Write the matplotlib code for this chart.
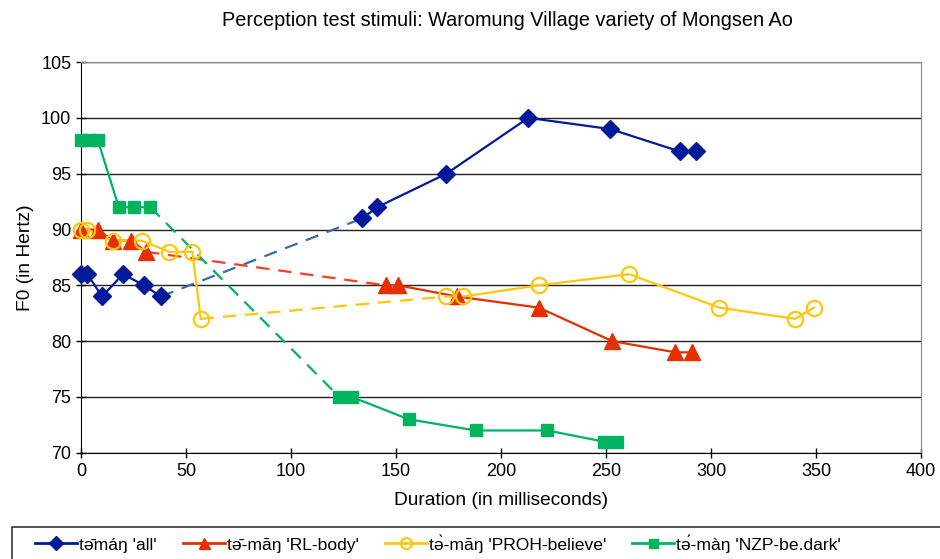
import matplotlib.pyplot as plt
from matplotlib.patches import Rectangle

plt.rcParams['font.family'] = ['Liberation Sans', 'DejaVu Sans']

# duration (ms) and F0 (Hz) for each stimulus
all_x = [0, 3, 10, 20, 30, 38, 134, 141, 174, 213, 252, 285, 293]
all_y = [86, 86, 84, 86, 85, 84, 91, 92, 95, 100, 99, 97, 97]

body_x = [0, 8, 15, 24, 31, 145, 151, 179, 218, 253, 283, 291]
body_y = [90, 90, 89, 89, 88, 85, 85, 84, 83, 80, 79, 79]

believe_x = [0, 3, 15, 29, 42, 53, 57, 174, 182, 218, 261, 304, 340, 349]
believe_y = [90, 90, 89, 89, 88, 88, 82, 84, 84, 85, 86, 83, 82, 83]

dark_x = [0, 4, 8, 18, 25, 33, 123, 129, 156, 188, 222, 249, 255]
dark_y = [98, 98, 98, 92, 92, 92, 75, 75, 73, 72, 72, 71, 71]

labels = ["tə̄máŋ 'all'", "tə̄-māŋ 'RL-body'", "tə̀-māŋ 'PROH-believe'", "tə́-màŋ 'NZP-be.dark'"]
# index of the last point before the dashed gap
gaps = [5, 4, 6, 5]

fig = plt.figure(figsize=(9.4, 5.59), dpi=100)
ax = fig.add_axes([0.0862, 0.19, 0.8936, 0.699])

series = [
    (all_x, all_y, '#001a99', '#3a6aa8', dict(marker='D', ms=9.5, mfc='#001a99', mec='#001a99')),
    (body_x, body_y, '#e62e00', '#ff3b1f', dict(marker='^', ms=11, mfc='#e62e00', mec='#e62e00')),
    (believe_x, believe_y, '#ffc60a', '#ffc60a', dict(marker='o', ms=11, mfc='none', mec='#ffc60a', mew=1.6)),
    (dark_x, dark_y, '#00b35f', '#00b35f', dict(marker='s', ms=9, mfc='#00b35f', mec='#00b35f')),
]

handles = []
for (x, y, c, dc, mk), g, lab in zip(series, gaps, labels):
    ax.plot(x[:g + 1], y[:g + 1], color=c, lw=1.6, zorder=3)
    ax.plot(x[g + 1:], y[g + 1:], color=c, lw=1.6, zorder=3)
    ax.plot(x[g:g + 2], y[g:g + 2], color=dc, lw=1.6, ls=(0, (6, 4)), zorder=3)
    ax.plot(x, y, ls='none', zorder=4, clip_on=False, **mk)
    h, = ax.plot([], [], color=c, lw=2, marker=mk['marker'], ms=mk['ms'] * 0.72,
                 mfc=mk['mfc'], mec=mk['mec'], mew=mk.get('mew', 1))
    handles.append(h)

ax.set_xlim(0, 400)
ax.set_ylim(70, 105)
ax.set_xticks(range(0, 401, 50))
ax.set_yticks(range(70, 106, 5))
ax.tick_params(direction='inout', length=7, width=1, labelsize=13, colors='black')
ax.grid(axis='y', color='#222222', lw=1)
ax.set_axisbelow(True)
for s in ['top', 'right']:
    ax.spines[s].set_color('#888888')
for s in ['left', 'bottom']:
    ax.spines[s].set_color('black')

ax.set_xlabel('Duration (in milliseconds)', fontsize=13.8, labelpad=9)
ax.set_ylabel('F0 (in Hertz)', fontsize=13.8, labelpad=5)
fig.text(0.54, 0.964, 'Perception test stimuli: Waromung Village variety of Mongsen Ao',
         ha='center', va='center', fontsize=14.3)

fig.patches.append(Rectangle((12 / 940, -0.05), 1.0, 0.108, transform=fig.transFigure,
                             fill=False, edgecolor='#333333', lw=1.2))
fig.legend(handles=handles, labels=labels, loc='center', bbox_to_anchor=(0.466, 0.028),
           ncol=4, frameon=False, fontsize=12.6, handlelength=2.4, columnspacing=1.5,
           handletextpad=0.1)

fig.savefig('out.png', dpi=100)
